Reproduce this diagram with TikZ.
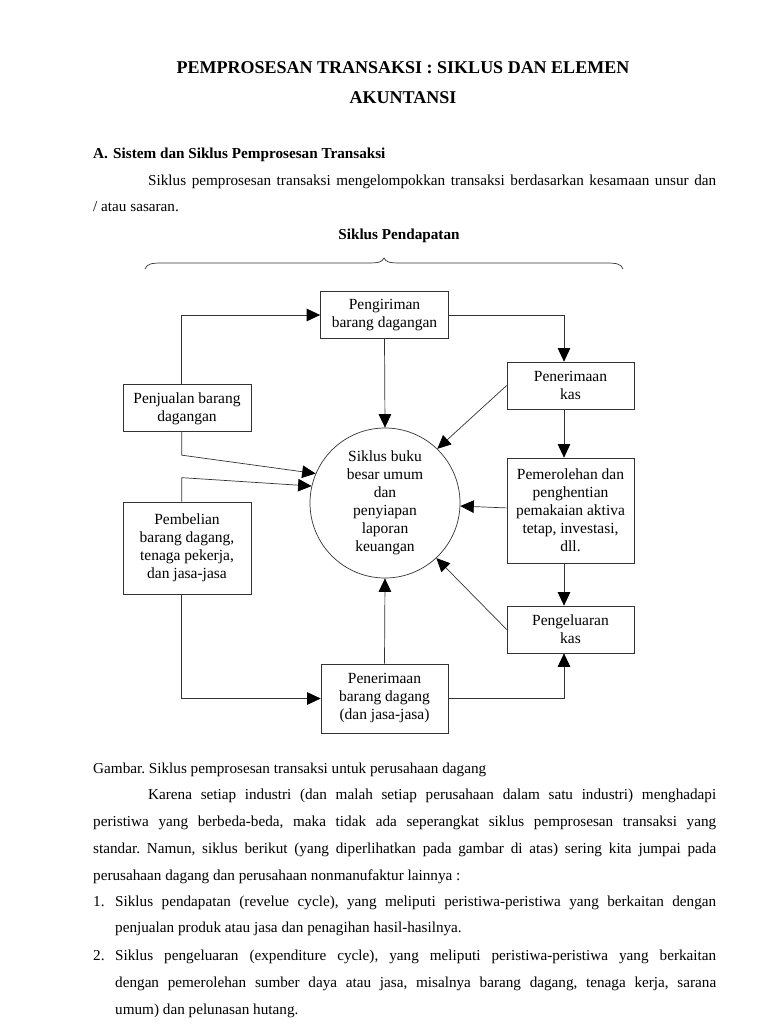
\documentclass[tikz,border=0pt]{standalone}
\usepackage{fontspec}
\setmainfont{Liberation Serif}
\usetikzlibrary{arrows.meta}

\newcommand{\boxfont}{\fontsize{15.5}{18}\selectfont}
\newcommand{\bodyfont}{\fontsize{15.2}{18}\selectfont\frenchspacing}
\newcommand{\titlefont}{\fontsize{18}{20}\selectfont\bfseries}

\tikzset{
  proses/.style={draw=black!80, line width=0.7pt, align=center, inner sep=0pt, font=\boxfont},
  alur/.style={draw=black!80, line width=0.7pt, -{Triangle[length=13.5pt,width=12.5pt,color=black]}},
  teks/.style={anchor=base west, inner sep=0pt, font=\bodyfont},
}

\begin{document}
\begin{tikzpicture}[x=1pt, y=-1pt]
	\useasboundingbox (0,0) rectangle (768,1024);
	\fill[white] (0,0) rectangle (768,1024);

	% judul dan pengantar
	\node[font=\titlefont, anchor=base] (judul1) at (403,74) {PEMPROSESAN TRANSAKSI : SIKLUS DAN ELEMEN};
	\node[font=\titlefont, anchor=base] (judul2) at (403,104) {AKUNTANSI};
	\node[teks, font=\bodyfont\bfseries] (subA) at (93,159) {A.};
	\node[teks, font=\bodyfont\bfseries] (subjudul) at (113,159) {Sistem dan Siklus Pemprosesan Transaksi};
	\node[teks] (par1) at (148,186) {\makebox[568pt][s]{Siklus pemprosesan transaksi mengelompokkan transaksi berdasarkan kesamaan unsur dan}};
	\node[teks] (par2) at (93,212) {/ atau sasaran.};
	\node[font=\bodyfont\bfseries, anchor=base] (siklusjudul) at (399,240) {Siklus Pendapatan};

	\draw[black!80, line width=0.7pt] (145,269) .. controls (147,264) and (151,263) .. (162,263) -- (368,263)
		.. controls (379,263) and (382,262) .. (384,258) .. controls (386,262) and (389,263) .. (400,263)
		-- (606,263) .. controls (617,263) and (621,264) .. (623,269);

	% kotak siklus
	\node[proses, minimum width=128pt, minimum height=47pt] (kirim) at (384.5,315) {Pengiriman\\barang dagangan};
	\node[proses, minimum width=127pt, minimum height=47pt] (kasin) at (570.5,385.5) {Penerimaan\\kas};
	\node[proses, minimum width=128pt, minimum height=47pt] (jual) at (187,408.3) {Penjualan barang\\dagangan};
	\node[proses, circle, minimum size=150pt] (siklus) at (385,503) {Siklus buku\\besar umum\\dan\\penyiapan\\laporan\\keuangan};
	\node[proses, minimum width=127pt, minimum height=105pt] (oleh) at (570.5,510.5) {Pemerolehan dan\\penghentian\\pemakaian aktiva\\tetap, investasi,\\dll.};
	\node[proses, minimum width=128pt, minimum height=92pt] (beli) at (187,548) {Pembelian\\barang dagang,\\tenaga pekerja,\\dan jasa-jasa};
	\node[proses, minimum width=127pt, minimum height=47pt] (keluar) at (570.5,629.5) {Pengeluaran\\kas};
	\node[proses, minimum width=127pt, minimum height=69pt] (terima) at (384.5,698.5) {Penerimaan\\barang dagang\\(dan jasa-jasa)};

	% alur
	\draw[alur] ([xshift=-5.3pt]jual.north) |- (kirim.west);
	\draw[alur] (kirim.east) -| ([xshift=-6.5pt]kasin.north);
	\draw[alur] (kirim.south) -- (siklus.north);
	\draw[alur] (kasin.west) -- (siklus.46);
	\draw[alur] ([xshift=-6.5pt]kasin.south) -- ([xshift=-6.5pt]oleh.north);
	\draw[alur] ([xshift=-5.3pt]jual.south) -- ++(0,23) -- (siklus.157);
	\draw[alur] ([xshift=-5.3pt]beli.north) -- ++(0,-24) -- (siklus.167);
	\draw[alur] (oleh) -- (siklus);
	\draw[alur] ([xshift=-6.5pt]oleh.south) -- ([xshift=-6.5pt]keluar.north);
	\draw[alur] (keluar.west) -- (siklus.-47);
	\draw[alur] (terima.north) -- (siklus.south);
	\draw[alur] ([xshift=-5.3pt]beli.south) |- (terima.west);
	\draw[alur] (terima.east) -| ([xshift=-6.5pt]keluar.south);

	% keterangan dan uraian
	\node[teks] (gambar) at (93,773) {Gambar. Siklus pemprosesan transaksi untuk perusahaan dagang};
	\node[teks] (par3) at (148,799) {\makebox[568pt][s]{Karena setiap industri (dan malah setiap perusahaan dalam satu industri) menghadapi}};
	\node[teks] (par4) at (93,826) {\makebox[623pt][s]{peristiwa yang berbeda-beda, maka tidak ada seperangkat siklus pemprosesan transaksi yang}};
	\node[teks] (par5) at (93,853) {\makebox[623pt][s]{standar. Namun, siklus berikut (yang diperlihatkan pada gambar di atas) sering kita jumpai pada}};
	\node[teks] (par6) at (93,880) {perusahaan dagang dan perusahaan nonmanufaktur lainnya :};
	\node[teks] (no1) at (93,906) {1.};
	\node[teks] (item1a) at (115,906) {\makebox[601pt][s]{Siklus pendapatan (revelue cycle), yang meliputi peristiwa-peristiwa yang berkaitan dengan}};
	\node[teks] (item1b) at (115,932) {penjualan produk atau jasa dan penagihan hasil-hasilnya.};
	\node[teks] (no2) at (93,960) {2.};
	\node[teks] (item2a) at (115,960) {\makebox[601pt][s]{Siklus pengeluaran (expenditure cycle), yang meliputi peristiwa-peristiwa yang berkaitan}};
	\node[teks] (item2b) at (115,987) {\makebox[601pt][s]{dengan pemerolehan sumber daya atau jasa, misalnya barang dagang, tenaga kerja, sarana}};
	\node[teks] (item2c) at (115,1014) {umum) dan pelunasan hutang.};

\end{tikzpicture}
\end{document}
